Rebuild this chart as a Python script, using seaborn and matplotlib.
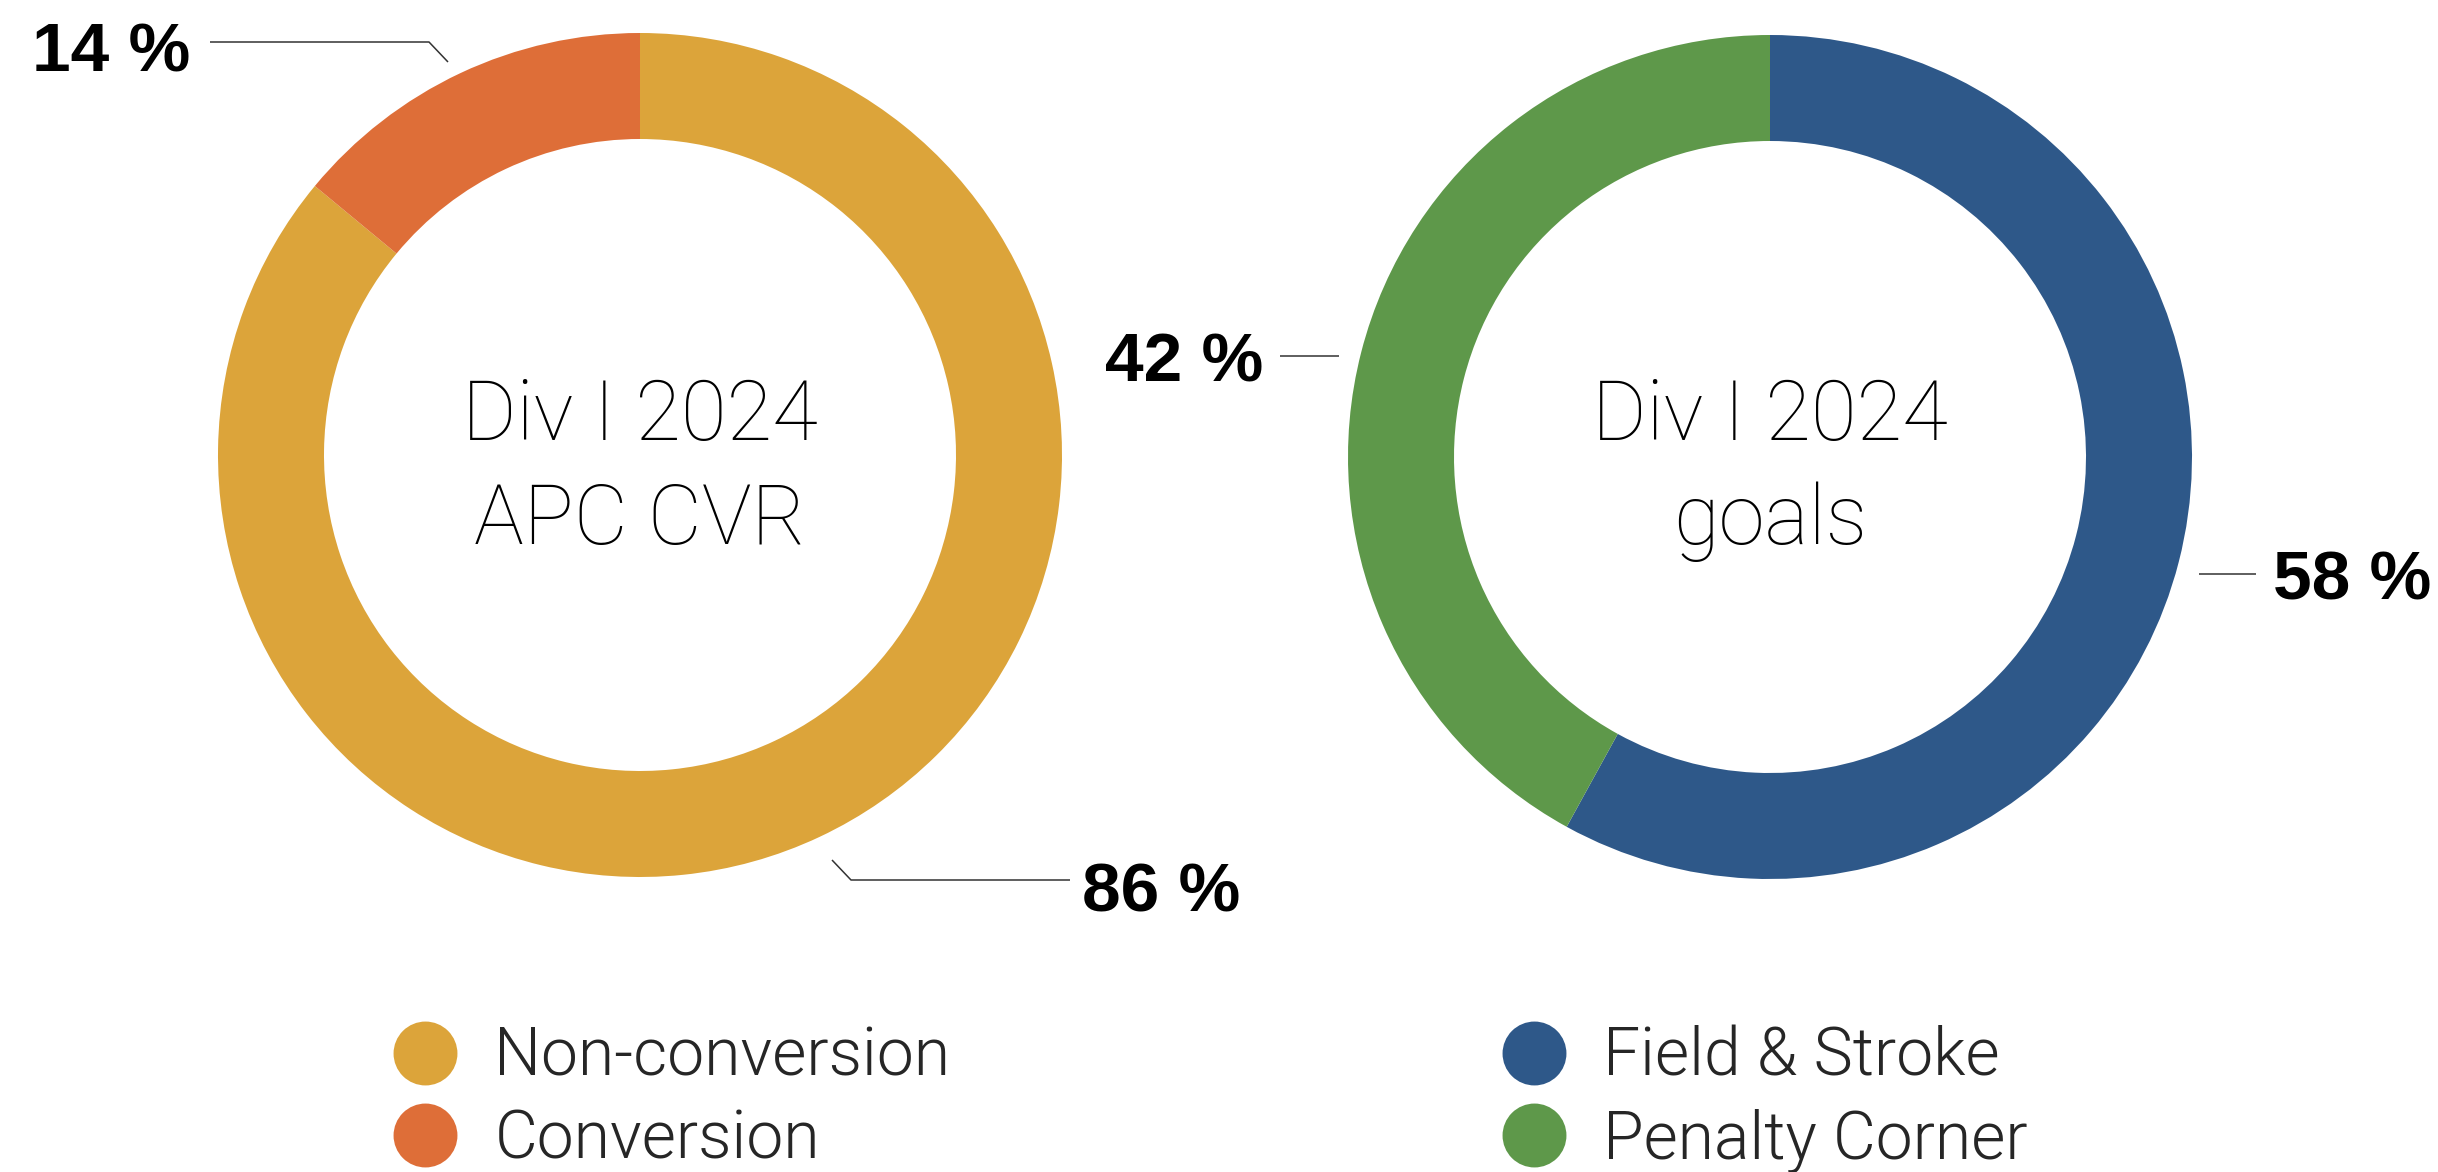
import matplotlib
matplotlib.use("Agg")
import matplotlib.pyplot as plt
from matplotlib.lines import Line2D
import seaborn as sns

W, H = 2438, 1172

# left donut: attacking penalty corner conversion
apc_labels = ["Non-conversion", "Conversion"]
apc_share = [86, 14]

# right donut: how the goals were scored
goal_labels = ["Field & Stroke", "Penalty Corner"]
goal_share = [58, 42]

centre_titles = ["Div I 2024\nAPC CVR", "Div I 2024\ngoals"]

apc_colors = ["#DCA43A", "#DE6E38"]
goal_colors = ["#2E5889", "#5E984A"]

sns.set_theme(style="white")
plt.rcParams["font.family"] = ["Roboto", "DejaVu Sans"]
pct_font = ["Liberation Sans Narrow", "Liberation Sans", "DejaVu Sans"]

fig = plt.figure(figsize=(W / 100, H / 100), dpi=100)
ax = fig.add_axes([0, 0, 1, 1])


def px(x, y):
    # positions were measured from the top-left of the reference
    return x, H - y


def donut(values, colors, cx, cy, title):
    ax.pie(values, colors=colors, startangle=90, counterclock=False,
           radius=422, center=px(cx, cy),
           wedgeprops=dict(width=106, linewidth=0))
    for line, base in zip(title.split("\n"), [440, 544]):
        ax.text(*px(cx, base), line, ha="center", va="baseline",
                fontsize=60, fontweight=100, color="black")


def pct_label(value, tx, ty, ha, path):
    ax.text(*px(tx, ty), f"{value} %", ha=ha, va="baseline",
            family=pct_font, fontweight="bold", fontsize=50, color="black")
    xs = [p[0] for p in path]
    ys = [H - p[1] for p in path]
    ax.plot(xs, ys, color="#333333", lw=1.1, solid_capstyle="butt")


donut(apc_share, apc_colors, 640, 455, centre_titles[0])
donut(goal_share, goal_colors, 1770, 457, centre_titles[1])

pct_label(apc_share[1], 190, 71, "right", [(210, 42), (429, 42), (448, 62)])
pct_label(apc_share[0], 1082, 912, "left", [(832, 860), (851, 880), (1070, 880)])
pct_label(goal_share[1], 1263, 381, "right", [(1280, 356), (1339, 356)])
pct_label(goal_share[0], 2273, 599, "left", [(2199, 574), (2256, 574)])

ax.set_xlim(0, W)
ax.set_ylim(0, H)
ax.set_axis_off()


def make_legend(labels, colors, left, top):
    handles = [Line2D([], [], marker="o", ls="", markersize=46,
                      markerfacecolor=c, markeredgewidth=0) for c in colors]
    leg = fig.legend(handles, labels, loc="upper left",
                     bbox_to_anchor=(left / W, 1 - top / H),
                     frameon=False, borderpad=0, borderaxespad=0,
                     handlelength=1, handletextpad=0.55, labelspacing=0.28,
                     prop=dict(family="Roboto", weight=300, size=47.5))
    return leg


make_legend(apc_labels, apc_colors, 392, 1026)
make_legend(goal_labels, goal_colors, 1501, 1026)

fig.savefig("out.png", dpi=100, facecolor="white")
